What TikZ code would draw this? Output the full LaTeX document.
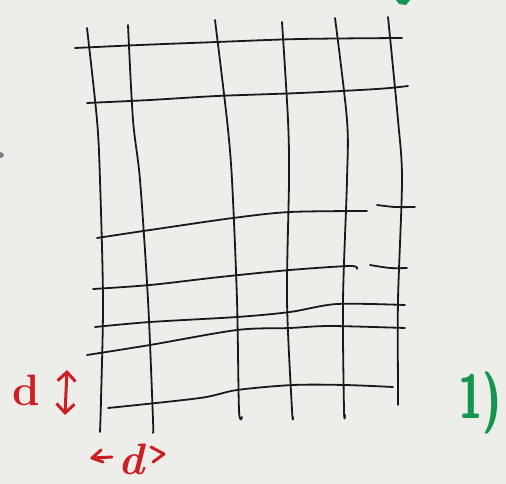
\documentclass[tikz,border=0pt]{standalone}
\usetikzlibrary{arrows.meta}
\definecolor{paper}{RGB}{237,237,233}
\definecolor{ink}{RGB}{25,25,25}
\definecolor{redink}{RGB}{205,30,35}
\definecolor{greenink}{RGB}{20,150,80}
\begin{document}
\begin{tikzpicture}[x=1pt,y=-1pt,
  pen/.style={draw=ink,line width=1.8pt,line cap=round,line join=round},
  redpen/.style={draw=redink,line width=3pt,line cap=round,line join=round},
  redtext/.style={text=redink,font=\bfseries\fontsize{44}{44}\selectfont,inner sep=0pt},
  greentext/.style={text=greenink,font=\sffamily\bfseries\fontsize{62}{62}\selectfont,inner sep=0pt}]
\fill[paper] (0,0) rectangle (506,484);
\useasboundingbox (0,0) rectangle (506,484);
% vertical lines
\draw[pen] plot[smooth] coordinates {(87,28) (97,120) (100,180) (103,300) (101,400) (100,432)};
\draw[pen] plot[smooth] coordinates {(128,25) (133,120) (140,180) (148,300) (153,420) (153,432)};
\draw[pen] plot[smooth] coordinates {(215,20) (227,120) (232,180) (237,300) (239,410) (242,417)};
\draw[pen] plot[smooth] coordinates {(282,22) (288,120) (289,180) (287,300) (292,410) (293,417)};
\draw[pen] plot[smooth] coordinates {(335,18) (347,120) (347,180) (343,300) (344,410) (345,415)};
\draw[pen] plot[smooth] coordinates {(388,17) (398,120) (402,180) (398,300) (398,390) (398,405)};
% horizontal lines
\draw[pen] plot[smooth] coordinates {(75,48) (140,45) (217,42) (300,39) (402,38)};
\draw[pen] plot[smooth] coordinates {(87,103) (150,100) (217,96) (300,93) (377,89) (408,86)};
\draw[pen] plot[smooth] coordinates {(97,238) (150,230) (233,218) (290,212) (367,211)};
\draw[pen] plot[smooth] coordinates {(377,205) (395,207) (415,207)};
\draw[pen] plot[smooth] coordinates {(93,289) (150,285) (220,277) (290,270) (350,266) (357,269)};
\draw[pen] plot[smooth] coordinates {(370,265) (390,268) (407,268)};
\draw[pen] plot[smooth] coordinates {(95,327) (150,322) (237,317) (290,312) (337,304) (405,305)};
\draw[pen] plot[smooth] coordinates {(87,355) (150,345) (237,330) (290,328) (330,326) (405,328)};
\draw[pen] plot[smooth] coordinates {(108,408) (200,398) (237,390) (293,385) (345,385) (393,387)};
% red labels
\node[redtext,anchor=base] (dv) at (26,405) {d};
\coordinate (vt) at (67,370);
\coordinate (vb) at (65,415);
\draw[redpen,{Straight Barb[length=9pt,width=18pt]}-{Straight Barb[length=9pt,width=18pt]}] (vt) -- (vb);
\node[redtext,anchor=base,font=\bfseries\itshape\fontsize{44}{44}\selectfont] (dh) at (132,474) {d};
\coordinate (la) at (92,458);
\coordinate (lb) at (112,457);
\draw[redpen] (101,450) -- (la) -- (103,462);
\draw[redpen] (la) -- (lb);
\draw[redpen] (151,447) -- (164,454) -- (153,462);
% green label
\node[greentext,anchor=base west,xscale=0.72] (one) at (458,418) {1)};
\fill[greenink] (396,0) -- (410,0) -- (406,5) -- (399,4) -- cycle;
\fill[gray] (0,155) ellipse [x radius=4, y radius=3];
\end{tikzpicture}
\end{document}
